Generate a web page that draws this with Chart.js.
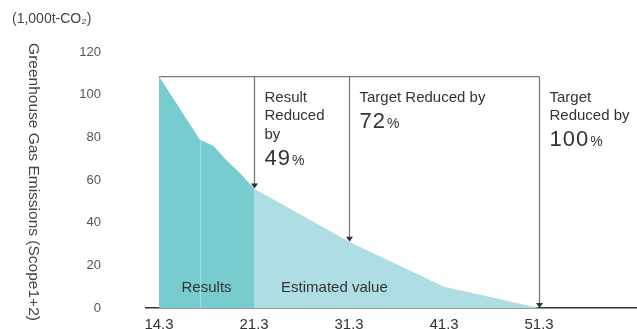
<!DOCTYPE html>
<html>
<head>
<meta charset="utf-8">
<script src="https://cdn.jsdelivr.net/npm/chart.js@4.4.1/dist/chart.umd.min.js"></script>
<style>
  html, body { margin: 0; padding: 0; background: #fff; }
  canvas { display: block; }
</style>
</head>
<body>
<canvas id="container" width="637" height="329"></canvas>
<script>
// fiscal years on the x axis (labels) and the emission values
const tickLabels = ['14.3', '21.3', '31.3', '41.3', '51.3'];
const resultYears = [14.3, 17.3, 18.3, 19.3, 20.3, 21.3];
const resultValues = [108.5, 79, 76, 69, 63, 56];
const estimateYears = [21.3, 31.3, 41.3, 51.3];
const estimateValues = [56, 31, 10, 0];
const baseValue = 108.5;
const arrowYears = [21.3, 31.3, 51.3];
const arrowValues = [56, 31, 0];
const arrowTexts = [
    { lines: ['Result', 'Reduced', 'by'], big: '49' },
    { lines: ['Target Reduced by'], big: '72' },
    { lines: ['Target', 'Reduced by'], big: '100' }
];

const FONT = "'Liberation Sans', Arial, Helvetica, sans-serif";
const DARK = 'rgb(118, 204, 207)';
const LIGHT = 'rgb(174, 221, 227)';

// the axis is not linear: one step per year up to 21.3, then 10 years per step
function pos(fy) {
    return fy <= 21.3 ? fy - 14.3 : 7 + (fy - 21.3) * 0.7;
}

function points(years, values) {
    return years.map((fy, i) => ({ x: pos(fy), y: values[i] }));
}

const annotations = {
    id: 'annotations',
    afterDatasetsDraw(chart) {
        const c = chart.ctx;
        const xs = chart.scales.x;
        const ys = chart.scales.y;
        const yTop = ys.getPixelForValue(baseValue);
        c.save();

        // faint seam inside the results area
        const xs1 = xs.getPixelForValue(pos(resultYears[1]));
        c.strokeStyle = 'rgba(255,255,255,0.3)';
        c.lineWidth = 1;
        c.beginPath();
        c.moveTo(Math.round(xs1) + 0.5, ys.getPixelForValue(resultValues[1]));
        c.lineTo(Math.round(xs1) + 0.5, ys.getPixelForValue(0));
        c.stroke();

        // reference line at the starting level
        c.strokeStyle = '#7a7a7a';
        c.lineWidth = 1.3;
        c.beginPath();
        c.moveTo(xs.getPixelForValue(pos(14.3)), yTop);
        c.lineTo(xs.getPixelForValue(pos(arrowYears[arrowYears.length - 1])), yTop);
        c.stroke();

        arrowYears.forEach((fy, i) => {
            const x = Math.round(xs.getPixelForValue(pos(fy))) + 0.5;
            const yEnd = ys.getPixelForValue(arrowValues[i]);
            c.strokeStyle = '#7a7a7a';
            c.beginPath();
            c.moveTo(x, yTop);
            c.lineTo(x, yEnd - 4);
            c.stroke();
            c.fillStyle = '#333';
            c.beginPath();
            c.moveTo(x, yEnd);
            c.lineTo(x - 3.5, yEnd - 5);
            c.lineTo(x + 3.5, yEnd - 5);
            c.closePath();
            c.fill();

            // labels
            const t = arrowTexts[i];
            const tx = x + 10;
            let by = yTop + 25;
            c.fillStyle = '#333';
            c.textAlign = 'left';
            c.textBaseline = 'alphabetic';
            c.font = '15px ' + FONT;
            t.lines.forEach((ln, k) => {
                c.fillText(ln, tx, by + k * 18.5);
            });
            const bigY = by + (t.lines.length - 1) * 18.5 + 26;
            c.font = '22px ' + FONT;
            c.letterSpacing = '1px';
            c.fillText(t.big, tx, bigY);
            const w = c.measureText(t.big).width;
            c.letterSpacing = '0px';
            c.font = '14px ' + FONT;
            c.fillText('%', tx + w + 1, bigY);
        });

        // area labels
        const yLab = ys.getPixelForValue(0) - 16.5;
        c.font = '15px ' + FONT;
        c.fillStyle = '#333';
        c.textAlign = 'center';
        c.fillText('Results', (xs.getPixelForValue(pos(14.3)) + xs.getPixelForValue(pos(21.3))) / 2, yLab);
        c.textAlign = 'left';
        c.fillText('Estimated value', xs.getPixelForValue(pos(21.3)) + 27, yLab);

        // y axis title, read top to bottom
        c.translate(33, 182);
        c.rotate(Math.PI / 2);
        c.textAlign = 'center';
        c.textBaseline = 'middle';
        c.font = '15.5px ' + FONT;
        c.fillStyle = '#444';
        c.fillText('Greenhouse Gas Emissions (Scope1+2)', 0, 0);
        c.restore();
    }
};

const ctx = document.getElementById('container').getContext('2d');

var chart = new Chart(ctx, {
    type: 'line',
    data: {
        datasets: [{
            data: points(resultYears, resultValues),
            fill: 'origin',
            backgroundColor: DARK,
            borderWidth: 0,
            pointRadius: 0
        }, {
            data: points(estimateYears, estimateValues),
            fill: 'origin',
            backgroundColor: LIGHT,
            borderWidth: 0,
            pointRadius: 0
        }]
    },
    options: {
        responsive: false,
        animation: false,
        layout: {
            padding: { left: 12, right: 1, top: 0, bottom: 0 }
        },
        plugins: {
            legend: { display: false },
            tooltip: { enabled: false },
            title: {
                display: true,
                text: '(1,000t-CO₂)',
                align: 'start',
                color: '#444',
                font: { family: FONT, size: 14, weight: 'normal', lineHeight: 1.2 },
                padding: { top: 10.6, bottom: 24.6 }
            }
        },
        scales: {
            x: {
                type: 'linear',
                min: -0.96,
                max: 35.14,
                grid: { display: false, drawTicks: false },
                border: { display: true, color: '#333', width: 1.5 },
                afterBuildTicks: s => {
                    s.ticks = tickLabels.map(l => ({ value: pos(parseFloat(l)) }));
                },
                afterFit: s => { s.height = 21; },
                ticks: {
                    autoSkip: false,
                    maxRotation: 0,
                    padding: 9,
                    color: '#333',
                    font: { family: FONT, size: 15, lineHeight: 1 },
                    callback: (v, i) => tickLabels[i]
                }
            },
            y: {
                min: 0,
                max: 120,
                grid: { display: false, drawTicks: false },
                border: { display: false },
                afterFit: s => {
                    s.width = 134;
                    s.paddingTop = 0;
                    s.paddingBottom = 0;
                },
                ticks: {
                    stepSize: 20,
                    padding: 45,
                    color: '#555',
                    font: { family: FONT, size: 13 }
                }
            }
        }
    },
    plugins: [annotations]
});
</script>
</body>
</html>
